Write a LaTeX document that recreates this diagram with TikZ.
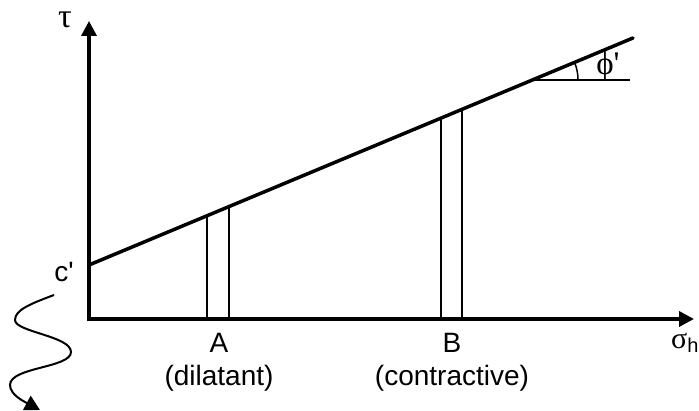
\documentclass[tikz,border=0pt]{standalone}
\usepackage{fontspec}
\setmainfont{Liberation Sans}
\newfontfamily\grk{Liberation Serif}
\usetikzlibrary{arrows.meta}
\begin{document}
\begin{tikzpicture}[x=1pt,y=1pt,
  axis/.style={line width=3.5pt,-{Triangle[width=15pt,length=15pt]}},
  mainline/.style={line width=3.5pt,line cap=round},
  thin/.style={line width=2pt},
  lbl/.style={font=\fontsize{28}{32}\selectfont,inner sep=0pt},
  grklbl/.style={font=\grk\fontsize{34}{38}\selectfont,inner sep=0pt}]
\useasboundingbox (0,0) rectangle (699,411);
% points
\coordinate (O) at (89,92);
\coordinate (Yt) at (89,390);
\coordinate (Xt) at (694,92);
\coordinate (C) at (89,146);
\coordinate (E) at (633,373);
\coordinate (A1t) at (207,195.24);
\coordinate (A2t) at (229,204.42);
\coordinate (B1t) at (441,292.88);
\coordinate (B2t) at (462,301.65);
\coordinate (V) at (533,331.27);
\coordinate (H) at (630,331.27);
% axes
\draw[axis] (O) -- (Yt);
\draw[axis] ([xshift=-1.75pt]O) -- (Xt);
% strength line
\draw[mainline] (C) -- (E);
% verticals
\draw[thin] (A1t) -- (A1t |- O);
\draw[thin] (A2t) -- (A2t |- O);
\draw[thin] (B1t) -- (B1t |- O);
\draw[thin] (B2t) -- (B2t |- O);
% angle
\draw[thin] (V) -- (H);
\draw[line width=1.5pt] ([xshift=45pt]V) arc[start angle=0,end angle=22.65,radius=45pt];
% labels
\node[grklbl] (tau) at (65,391) {τ};
\node[lbl] (cp) at (64,139) {c\textquotesingle};
\node[grklbl,font=\grk\fontsize{33}{36}\selectfont] (phi) at (608,344) {ϕ\textquotesingle};
\node[lbl] (A) at (219,68) {A};
\node[lbl] (Ad) at (219,33) {(dilatant)};
\node[lbl] (B) at (452,68) {B};
\node[lbl] (Bc) at (452,33) {(contractive)};
\node[lbl,anchor=west] (sig) at (671,68) {{\grk\fontsize{30}{32}\selectfont σ}\raisebox{-4pt}{\fontsize{20}{22}\selectfont h}};
% wavy arrow
\coordinate (w0) at (54,116);
\coordinate (w4) at (40,1);
\draw[line width=2pt,-{Triangle[width=16pt,length=15pt]}] (w0)
  .. controls (30,107) and (15,101) .. (15,91)
  .. controls (15,79) and (71,75) .. (71,59)
  .. controls (71,43) and (10,44) .. (10,26)
  .. controls (10,16) and (25,9) .. (w4);
\end{tikzpicture}
\end{document}
